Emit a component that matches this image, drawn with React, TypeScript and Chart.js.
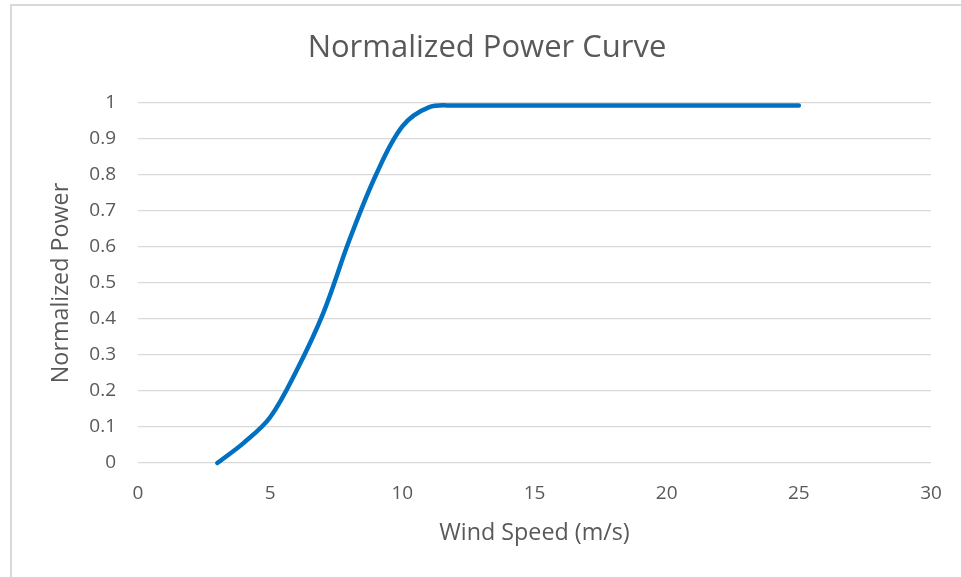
import React, { useEffect, useRef } from "react";
import { Chart, registerables } from "chart.js";

Chart.register(...registerables);

const windSpeed = [3, 4, 5, 6, 7, 8, 9, 10, 11, 12, 13, 14, 15, 16, 17, 18, 19, 20, 21, 22, 23, 24, 25];
const normalizedPower = [0, 0.056, 0.127, 0.257, 0.415, 0.62, 0.8, 0.935, 0.988, 0.993, 0.993, 0.993, 0.993, 0.993, 0.993, 0.993, 0.993, 0.993, 0.993, 0.993, 0.993, 0.993, 0.993];

const chartTitle = "Normalized Power Curve";
const xAxisTitle = "Wind Speed (m/s)";
const yAxisTitle = "Normalized Power";
const xRange = [0, 30, 5];
const yRange = [0, 1, 0.1];

const W = 961;
const H = 577;
const FONT = "'Open Sans', 'Noto Sans', sans-serif";
const TEXT = "#595959";
const GRID = "#d9d9d9";

const framePlugin = {
  id: "frame",
  beforeDraw(chart: any) {
    const ctx = chart.ctx;
    ctx.save();
    ctx.fillStyle = "#ffffff";
    ctx.fillRect(0, 0, chart.width, chart.height);
    ctx.fillStyle = "#d9d9d9";
    ctx.fillRect(10, 4, 2, chart.height);
    ctx.fillRect(10, 4, chart.width, 2);
    ctx.restore();
  },
};

export default function App() {
  const ref = useRef<HTMLCanvasElement | null>(null);

  useEffect(() => {
    if (!ref.current) return;
    const points = windSpeed.map((x, i) => ({ x, y: normalizedPower[i] }));
    const chart = new Chart(ref.current, {
      type: "line",
      data: {
        datasets: [
          {
            label: "Normalized Power",
            data: points,
            borderColor: "#0070C0",
            backgroundColor: "#0070C0",
            borderWidth: 4.5,
            borderCapStyle: "round",
            borderJoinStyle: "round",
            pointRadius: 0,
            pointHoverRadius: 0,
            tension: 0.35,
            fill: false,
            clip: false,
          } as any,
        ],
      },
      options: {
        responsive: false,
        animation: false,
        events: [],
        layout: { padding: { left: 43, right: 30, top: 0, bottom: 0 } },
        plugins: {
          legend: { display: false },
          tooltip: { enabled: false },
          title: {
            display: true,
            text: chartTitle,
            color: TEXT,
            font: { family: FONT, size: 31, weight: "normal" },
            padding: { top: 30, bottom: 35.8 },
          },
        },
        scales: {
          x: {
            type: "linear",
            min: xRange[0],
            max: xRange[1],
            grid: { display: false, drawTicks: false },
            border: { display: false },
            ticks: {
              stepSize: xRange[2],
              color: TEXT,
              font: { family: FONT, size: 19 },
              padding: 19,
              maxRotation: 0,
            },
            title: {
              display: true,
              text: xAxisTitle,
              color: TEXT,
              font: { family: FONT, size: 23.3 },
              padding: { top: 0, bottom: 30 },
            },
            afterFit(scale: any) {
              scale.height = 114;
              scale.paddingLeft = 0;
              scale.paddingRight = 0;
            },
          },
          y: {
            type: "linear",
            min: yRange[0],
            max: yRange[1],
            grid: { color: GRID, lineWidth: 1.3, drawTicks: false },
            border: { display: false },
            ticks: {
              stepSize: yRange[2],
              color: TEXT,
              font: { family: FONT, size: 19 },
              padding: 22,
              callback: (v: any) => String(Number(Number(v).toFixed(1))),
            },
            title: {
              display: true,
              text: yAxisTitle,
              color: TEXT,
              font: { family: FONT, size: 23.3 },
              padding: { top: 4, bottom: 0 },
            },
            afterFit(scale: any) {
              scale.width = 95;
            },
          },
        },
      },
      plugins: [framePlugin],
    });
    return () => chart.destroy();
  }, []);

  return (
    <div style={{ position: "fixed", left: 0, top: 0, width: W, height: H, background: "#fff" }}>
      <canvas ref={ref} width={W} height={H} style={{ display: "block", width: W, height: H }} />
    </div>
  );
}
